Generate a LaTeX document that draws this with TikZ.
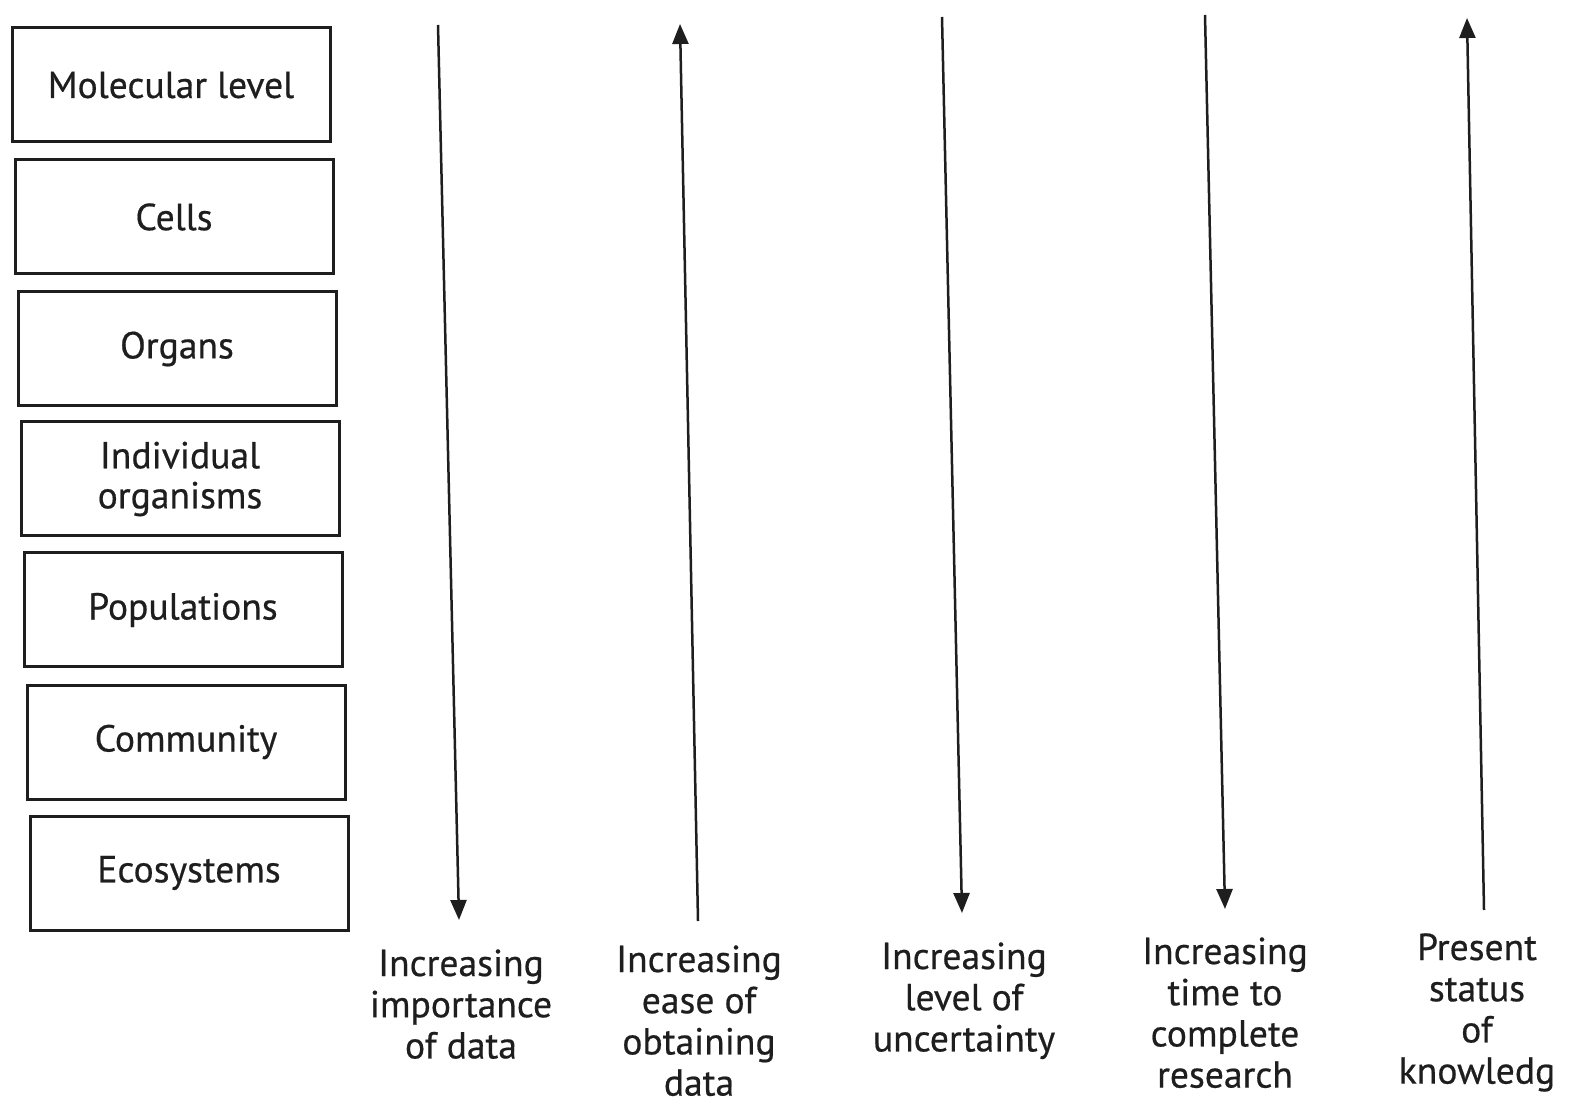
\documentclass[tikz,border=0pt]{standalone}
\usepackage{fontspec}
\setmainfont{PT Sans}
\newfontfamily\scanfont{PT Sans}[FakeBold=0.5]
\usetikzlibrary{arrows.meta}
\definecolor{ink}{HTML}{1E1E1E}
\begin{document}
\begin{tikzpicture}[x=0.5pt,y=-0.5pt,
  lvl/.style={draw=ink,line width=1.5pt,minimum width=159pt,minimum height=57pt,inner sep=0pt,text=ink,align=center,font=\scanfont\fontsize{18.8}{20}\selectfont},
  lab/.style={anchor=north,align=center,text=ink,inner sep=0pt,font=\scanfont\fontsize{18.8}{20.6}\selectfont},
  axis/.style={draw=ink,line width=1.25pt,-{Triangle[width=8pt,length=10pt]}}]
\useasboundingbox[fill=white] (0,0) rectangle (1573,1111);
% level boxes
\node[lvl] (b1) at (171,85) {Molecular level};
\node[lvl] (b2) at (174,217) {Cells};
\node[lvl] (b3) at (177,349) {Organs};
\node[lvl] (b4) at (180,479) {Individual\\organisms};
\node[lvl] (b5) at (183,610) {Populations};
\node[lvl] (b6) at (186,742) {Community};
\node[lvl] (b7) at (189,873) {Ecosystems};
% labels
\node[lab] (l1) at (461,949) {Increasing\\importance\\of data};
\node[lab] (l2) at (699,945) {Increasing\\ease of\\obtaining\\data};
\node[lab] (l3) at (964,942) {Increasing\\level of\\uncertainty};
\node[lab] (l4) at (1225,937) {Increasing\\time to\\complete\\research};
\node[lab] (l5) at (1477,933) {Present\\status\\of\\knowledg};
% arrow ends
\coordinate (t1) at (438,25);  \coordinate (e1) at (459,920);
\coordinate (t2) at (680,24);  \coordinate (e2) at (698,921);
\coordinate (t3) at (942,17);  \coordinate (e3) at (962,913);
\coordinate (t4) at (1205,15); \coordinate (e4) at (1225,909);
\coordinate (t5) at (1467,18); \coordinate (e5) at (1484,910);
\draw[axis] (t1) -- (e1);
\draw[axis] (e2) -- (t2);
\draw[axis] (t3) -- (e3);
\draw[axis] (t4) -- (e4);
\draw[axis] (e5) -- (t5);
\end{tikzpicture}
\end{document}
